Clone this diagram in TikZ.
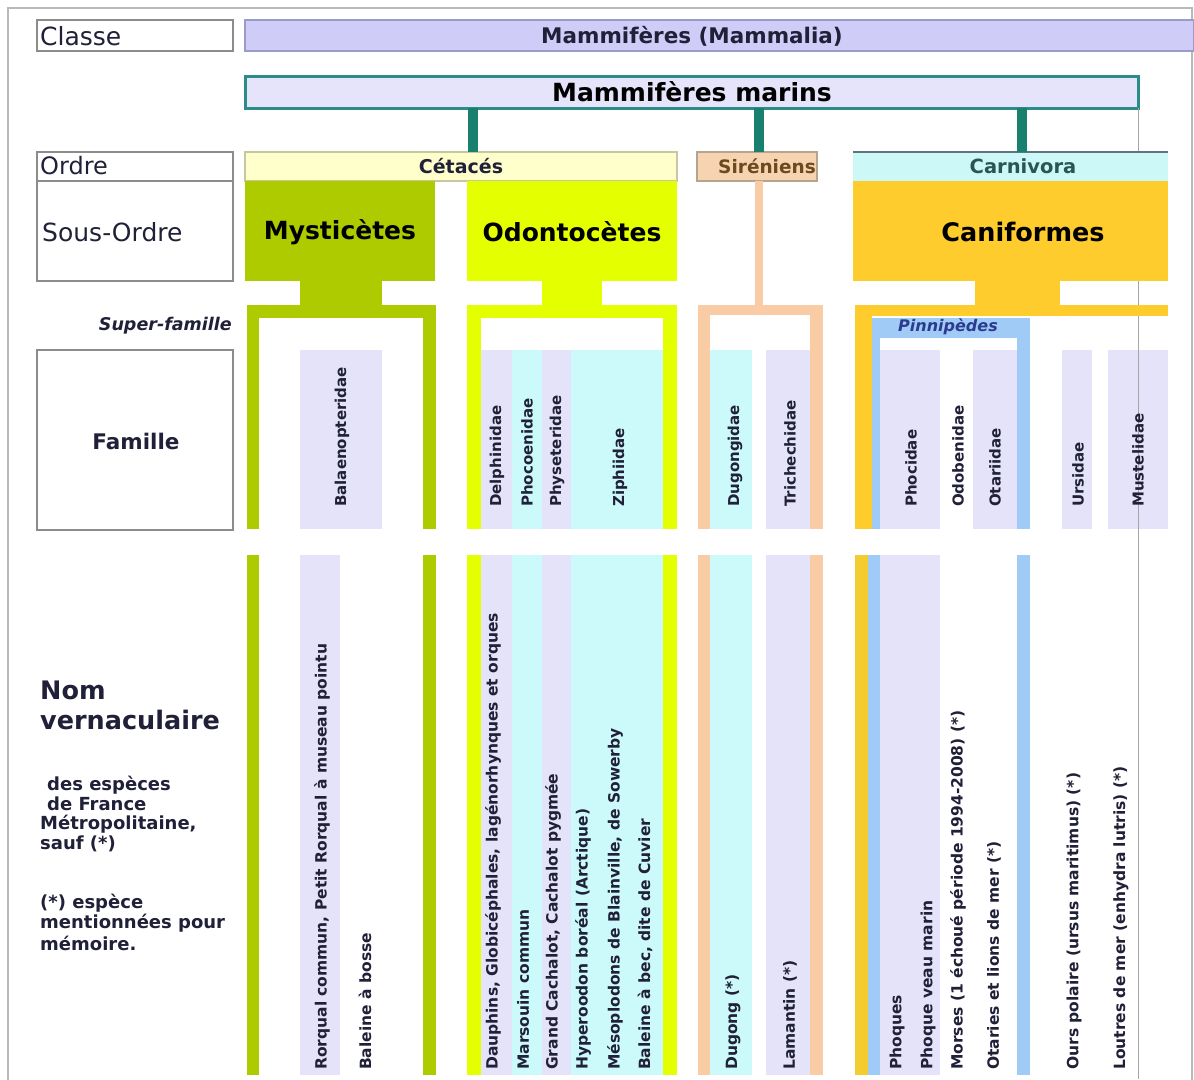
\documentclass[tikz,border=0pt]{standalone}
\usepackage{fontspec}
\setmainfont{DejaVu Sans}
\newcommand\fsz[1]{\fontsize{#1}{#1}\selectfont}
\definecolor{mamfill}{HTML}{CFCCF8}
\definecolor{mamdraw}{HTML}{9C9AC8}
\definecolor{marfill}{HTML}{E6E4FA}
\definecolor{marline}{HTML}{2B8C88}
\definecolor{stemc}{HTML}{17806E}
\definecolor{cetfill}{HTML}{FFFFCC}
\definecolor{cetline}{HTML}{C8C8A0}
\definecolor{sirfill}{HTML}{F7D3B2}
\definecolor{sirline}{HTML}{F9CCA6}
\definecolor{sirtext}{HTML}{6B4A1E}
\definecolor{carfill}{HTML}{CCF8F8}
\definecolor{cartext}{HTML}{2A5555}
\definecolor{mysc}{HTML}{AECB00}
\definecolor{odoc}{HTML}{E4FF00}
\definecolor{canc}{HTML}{FFCC2E}
\definecolor{canl}{HTML}{F3CC30}
\definecolor{pinc}{HTML}{9FCBF6}
\definecolor{pintext}{HTML}{2B3B8F}
\definecolor{lavc}{HTML}{E4E3FA}
\definecolor{cyac}{HTML}{CCFAFA}
\definecolor{labgray}{HTML}{8C8C8C}
\definecolor{txtc}{HTML}{202038}
\begin{document}
\begin{tikzpicture}[x=1pt,y=-1pt,
  rbox/.style={anchor=north west, inner sep=0pt, outer sep=0pt},
  lbl/.style={rbox, draw=labgray, line width=1.5pt, fill=white},
  famtext/.style={rotate=90, anchor=west, inner sep=0pt, font=\bfseries\fsz{15}, text=txtc},
  verntext/.style={rotate=90, anchor=west, inner sep=0pt, font=\bfseries\fsz{15.5}, text=txtc},
  lefttext/.style={anchor=west, inner sep=0pt, text=txtc},
  stem/.style={line width=10pt, draw=stemc}]
\useasboundingbox (0,0) rectangle (1194,1079);
\fill[white] (0,0) rectangle (1194,1079);
% outer frame
\draw[gray!55, line width=1.5pt] (8,8) rectangle (1192,1095);

% ---- left column ----
\node[lbl, minimum width=196pt, minimum height=31pt] (classe) at (37,20) {};
\node[lefttext, font=\fsz{25}] (tclasse) at (40,36) {Classe};
\node[lbl, minimum width=196pt, minimum height=29pt] (ordre) at (37,152) {};
\node[lefttext, font=\fsz{24}] (tordre) at (40,166) {Ordre};
\node[lbl, minimum width=196pt, minimum height=100pt] (sousordre) at (37,181) {};
\node[lefttext, font=\fsz{25}] (tsousordre) at (42,232) {Sous-Ordre};
\node[anchor=east, inner sep=0pt, text=txtc, font=\bfseries\itshape\fsz{17.5}] (tsuper) at (232,326) {Super-famille};
\node[lbl, minimum width=196pt, minimum height=180pt] (famille) at (37,350) {};
\node[inner sep=0pt, text=txtc, font=\bfseries\fsz{21.5}] (tfamille) at (136,441) {Famille};
\node[lefttext, font=\bfseries\fsz{25.5}] (tnom) at (40,690) {Nom};
\node[lefttext, font=\bfseries\fsz{25.5}] (tvern) at (40,720) {vernaculaire};
\node[lefttext, font=\bfseries\fsz{18}] (td1) at (47,785) {des espèces};
\node[lefttext, font=\bfseries\fsz{18}] (td2) at (47,804) {de France};
\node[lefttext, font=\bfseries\fsz{18}] (td3) at (40,824) {Métropolitaine,};
\node[lefttext, font=\bfseries\fsz{18}] (td4) at (40,844) {sauf (*)};
\node[lefttext, font=\bfseries\fsz{18}] (te1) at (40,903) {(*) espèce};
\node[lefttext, font=\bfseries\fsz{18}] (te2) at (40,923) {mentionnées pour};
\node[lefttext, font=\bfseries\fsz{18}] (te3) at (40,943) {mémoire.};

% ---- top ----
\node[rbox, draw=mamdraw, line width=1.5pt, fill=mamfill, minimum width=949pt, minimum height=31pt] (mam) at (245,20) {};
\node[inner sep=0pt, text=txtc, font=\bfseries\fsz{21.5}] (tmam) at (692,36) {Mammifères (Mammalia)};
\node[rbox, draw=marline, line width=3pt, fill=marfill, minimum width=893pt, minimum height=32pt] (mar) at (245,76) {};
\node[inner sep=0pt, text=black, font=\bfseries\fsz{25}] (tmar) at (692,92) {Mammifères marins};
% thin grey line
\coordinate (gl) at (1138,0);
\draw[gray!70, line width=1pt] (gl |- mar.south) -- (1138,1079);

% ---- orders ----
\node[rbox, draw=cetline, line width=1.5pt, fill=cetfill, minimum width=432pt, minimum height=29pt] (cet) at (245,152) {};
\node[inner sep=0pt, text=txtc, font=\bfseries\fsz{19}] (tcet) at (461,166) {Cétacés};
\node[rbox, draw=sirtext!50, line width=1.5pt, fill=sirfill, minimum width=120pt, minimum height=29pt] (sir) at (697,152) {};
\node[inner sep=0pt, text=sirtext, font=\bfseries\fsz{18.5}] (tsir) at (767,166) {Siréniens};
\node[rbox, fill=carfill, minimum width=315pt, minimum height=29pt] (car) at (853,152) {};
\draw[gray!60!cyan!60!black, line width=1.5pt] (car.north west) -- (car.north east);
\node[inner sep=0pt, text=cartext, font=\bfseries\fsz{19.5}] (tcar) at (1023,166) {Carnivora};

\coordinate (s1) at (473,0);
\coordinate (s2) at (759,0);
\coordinate (s3) at (1022,0);
\draw[stem] (s1 |- mar.south) -- (s1 |- cet.north);
\draw[stem] (s2 |- mar.south) -- (s2 |- sir.north);
\draw[stem] (s3 |- mar.south) -- (s3 |- car.north);

% ---- sub-orders ----
\node[rbox, fill=mysc, minimum width=190pt, minimum height=100pt] (mys) at (245,181) {};
\node[inner sep=0pt, text=black, font=\bfseries\fsz{25}] (tmys) at (340,232) {Mysticètes};
\node[rbox, fill=odoc, minimum width=210pt, minimum height=100pt] (odo) at (467,181) {};
\node[inner sep=0pt, text=black, font=\bfseries\fsz{25}] (todo) at (572,232) {Odontocètes};
\node[rbox, fill=canc, minimum width=315pt, minimum height=100pt] (can) at (853,181) {};
\node[inner sep=0pt, text=black, font=\bfseries\fsz{25.5}] (tcan) at (1023,232) {Caniformes};
\draw[sirline, line width=8pt] (s2 |- sir.south) -- (759,306);

% ---- brackets (upper) ----
\fill[mysc] (300,281) rectangle (382,306);
\fill[mysc] (247,305) rectangle (436,318);
\fill[mysc] (247,305) rectangle (259,529);
\fill[mysc] (423,305) rectangle (436,529);
\fill[odoc] (542,281) rectangle (602,306);
\fill[odoc] (467,305) rectangle (677,318);
\fill[odoc] (467,305) rectangle (481,529);
\fill[odoc] (663,305) rectangle (677,529);
\fill[sirline] (698,305) rectangle (823,315);
\fill[sirline] (698,305) rectangle (710,529);
\fill[sirline] (810,305) rectangle (823,529);
\fill[canc] (975,281) rectangle (1060,306);
\fill[canc] (855,305) rectangle (1168,316);
\fill[canc] (855,305) rectangle (872,529);
\node[rbox, fill=pinc, minimum width=158pt, minimum height=20pt] (pin) at (872,318) {};
\node[inner sep=0pt, text=pintext, font=\bfseries\itshape\fsz{16}] (tpin) at (948,327) {Pinnipèdes};
\fill[pinc] (872,318) rectangle (880,529);
\fill[pinc] (1017,318) rectangle (1030,529);

% family bands
\fill[lavc] (300,350) rectangle (382,529);
\fill[lavc] (481,350) rectangle (512,529);
\fill[cyac] (512,350) rectangle (542,529);
\fill[lavc] (542,350) rectangle (571,529);
\fill[cyac] (571,350) rectangle (663,529);
\fill[cyac] (710,350) rectangle (752,529);
\fill[lavc] (766,350) rectangle (810,529);
\fill[lavc] (880,350) rectangle (940,529);
\fill[lavc] (973,350) rectangle (1017,529);
\fill[lavc] (1062,350) rectangle (1092,529);
\fill[lavc] (1108,350) rectangle (1168,529);
\draw[gray!70, line width=1pt] (1138,350) -- (1138,529);

\node[famtext] (f1) at (342,507) {Balaenopteridae};
\node[famtext] (f2) at (497,507) {Delphinidae};
\node[famtext] (f3) at (527,507) {Phocoenidae};
\node[famtext] (f4) at (557,507) {Physeteridae};
\node[famtext] (f5) at (620,507) {Ziphiidae};
\node[famtext] (f6) at (735,507) {Dugongidae};
\node[famtext] (f7) at (790,507) {Trichechidae};
\node[famtext] (f8) at (911,507) {Phocidae};
\node[famtext] (f9) at (958,507) {Odobenidae};
\node[famtext] (f10) at (995,507) {Otariidae};
\node[famtext] (f11) at (1078,507) {Ursidae};
\node[famtext] (f12) at (1138,507) {Mustelidae};

% ---- lower section ----
\fill[mysc] (247,555) rectangle (259,1075);
\fill[mysc] (423,555) rectangle (436,1075);
\fill[lavc] (300,555) rectangle (340,1075);
\fill[odoc] (467,555) rectangle (481,1075);
\fill[odoc] (663,555) rectangle (677,1075);
\fill[lavc] (481,555) rectangle (512,1075);
\fill[cyac] (512,555) rectangle (542,1075);
\fill[lavc] (542,555) rectangle (571,1075);
\fill[cyac] (571,555) rectangle (663,1075);
\fill[sirline] (698,555) rectangle (710,1075);
\fill[sirline] (810,555) rectangle (823,1075);
\fill[cyac] (710,555) rectangle (752,1075);
\fill[lavc] (766,555) rectangle (810,1075);
\fill[canl] (855,555) rectangle (868,1075);
\fill[pinc] (868,555) rectangle (880,1075);
\fill[lavc] (880,555) rectangle (940,1075);
\fill[pinc] (1017,555) rectangle (1030,1075);

\node[verntext] (v1) at (322,1070) {Rorqual commun, Petit Rorqual à museau pointu};
\node[verntext] (v2) at (365,1070) {Baleine à bosse};
\node[verntext] (v3) at (493,1070) {Dauphins, Globicéphales, lagénorhynques et orques};
\node[verntext] (v4) at (523,1070) {Marsouin commun};
\node[verntext] (v5) at (553,1070) {Grand Cachalot, Cachalot pygmée};
\node[verntext] (v6) at (583,1070) {Hyperoodon boréal (Arctique)};
\node[verntext] (v7) at (615,1070) {Mésoplodons de Blainville, de Sowerby};
\node[verntext] (v8) at (645,1070) {Baleine à bec, dite de Cuvier};
\node[verntext] (v9) at (733,1070) {Dugong (*)};
\node[verntext] (v10) at (790,1070) {Lamantin (*)};
\node[verntext] (v11) at (897,1070) {Phoques};
\node[verntext] (v12) at (928,1070) {Phoque veau marin};
\node[verntext] (v13) at (958,1070) {Morses (1 échoué période 1994-2008) (*)};
\node[verntext] (v14) at (994,1070) {Otaries et lions de mer (*)};
\node[verntext] (v15) at (1074,1070) {Ours polaire (ursus maritimus) (*)};
\node[verntext] (v16) at (1121,1070) {Loutres de mer (enhydra lutris) (*)};
\end{tikzpicture}
\end{document}
